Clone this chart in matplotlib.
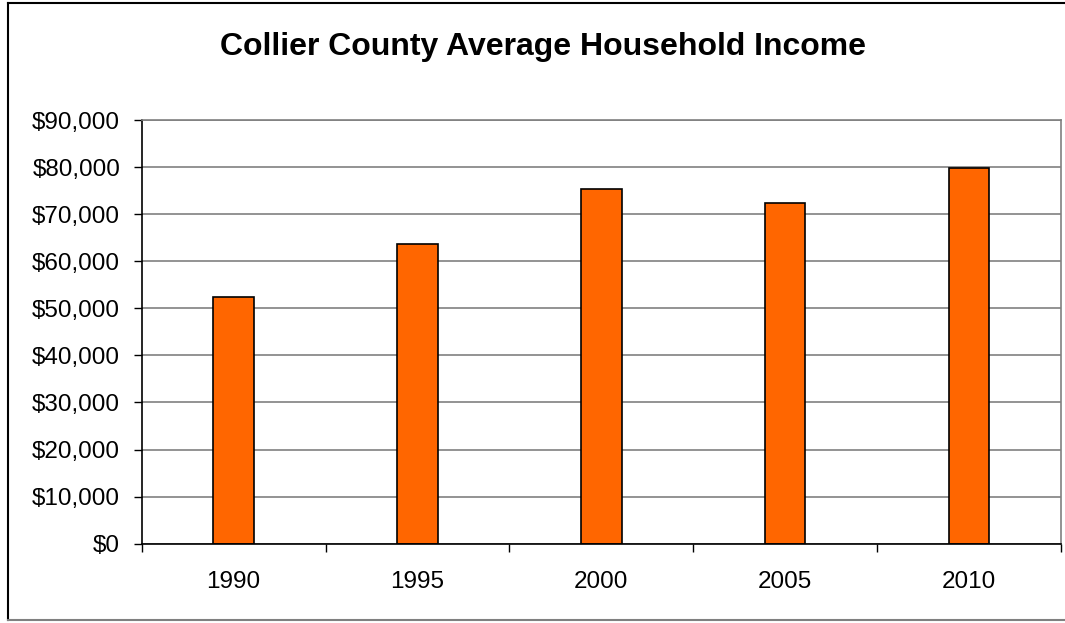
import matplotlib.pyplot as plt
from matplotlib.lines import Line2D
from matplotlib.ticker import FuncFormatter, MultipleLocator
import numpy as np

# 数据
years = ['1990', '1995', '2000', '2005', '2010']
income = [52300, 63700, 75300, 72300, 79800]

plt.rcParams['font.family'] = ['Liberation Sans', 'DejaVu Sans']

fig = plt.figure(figsize=(10.65, 6.23), dpi=100)
ax = fig.add_axes([141.7 / 1065, 1 - 543.7 / 623, (1061 - 141.7) / 1065, (543.7 - 120) / 623])

x = np.arange(len(years))
ax.bar(x, income, width=0.22, color='#FF6600', edgecolor='black', linewidth=1.2, zorder=3)

# 坐标轴
ax.set_xlim(-0.5, len(years) - 0.5)
ax.set_ylim(0, 90000)
ax.yaxis.set_major_locator(MultipleLocator(10000))
ax.yaxis.set_major_formatter(FuncFormatter(lambda v, p: '${:,.0f}'.format(v)))
ax.set_xticks(x)
ax.set_xticklabels(years)
ax.set_xticks(np.arange(len(years) + 1) - 0.5, minor=True)
ax.tick_params(axis='x', which='major', length=0, pad=20, labelsize=17.5)
ax.tick_params(axis='x', which='minor', length=6, width=1, color='black')
ax.tick_params(axis='y', length=6, width=1, pad=9.5, labelsize=17.5, color='black')
ax.grid(axis='y', color='#808080', linewidth=1.2, zorder=0)
ax.set_axisbelow(True)

for s in ['top', 'right']:
    ax.spines[s].set_color('#808080')
    ax.spines[s].set_linewidth(1.2)
for s in ['left', 'bottom']:
    ax.spines[s].set_color('black')
    ax.spines[s].set_linewidth(1.2)
ax.spines['bottom'].set_zorder(4)

# 标题
fig.text(543 / 1065, 1 - 55 / 623, 'Collier County Average Household Income',
         ha='center', va='baseline', fontsize=23, fontweight='bold')

# 外框
fig.add_artist(Line2D([8 / 1065, 8 / 1065], [1 - 3 / 623, 1 - 620 / 623], color='black', linewidth=1.5))
fig.add_artist(Line2D([8 / 1065, 1], [1 - 3 / 623, 1 - 3 / 623], color='black', linewidth=1.5))
fig.add_artist(Line2D([8 / 1065, 1], [1 - 620 / 623, 1 - 620 / 623], color='#808080', linewidth=1.5))

fig.savefig('out.png', dpi=100)
